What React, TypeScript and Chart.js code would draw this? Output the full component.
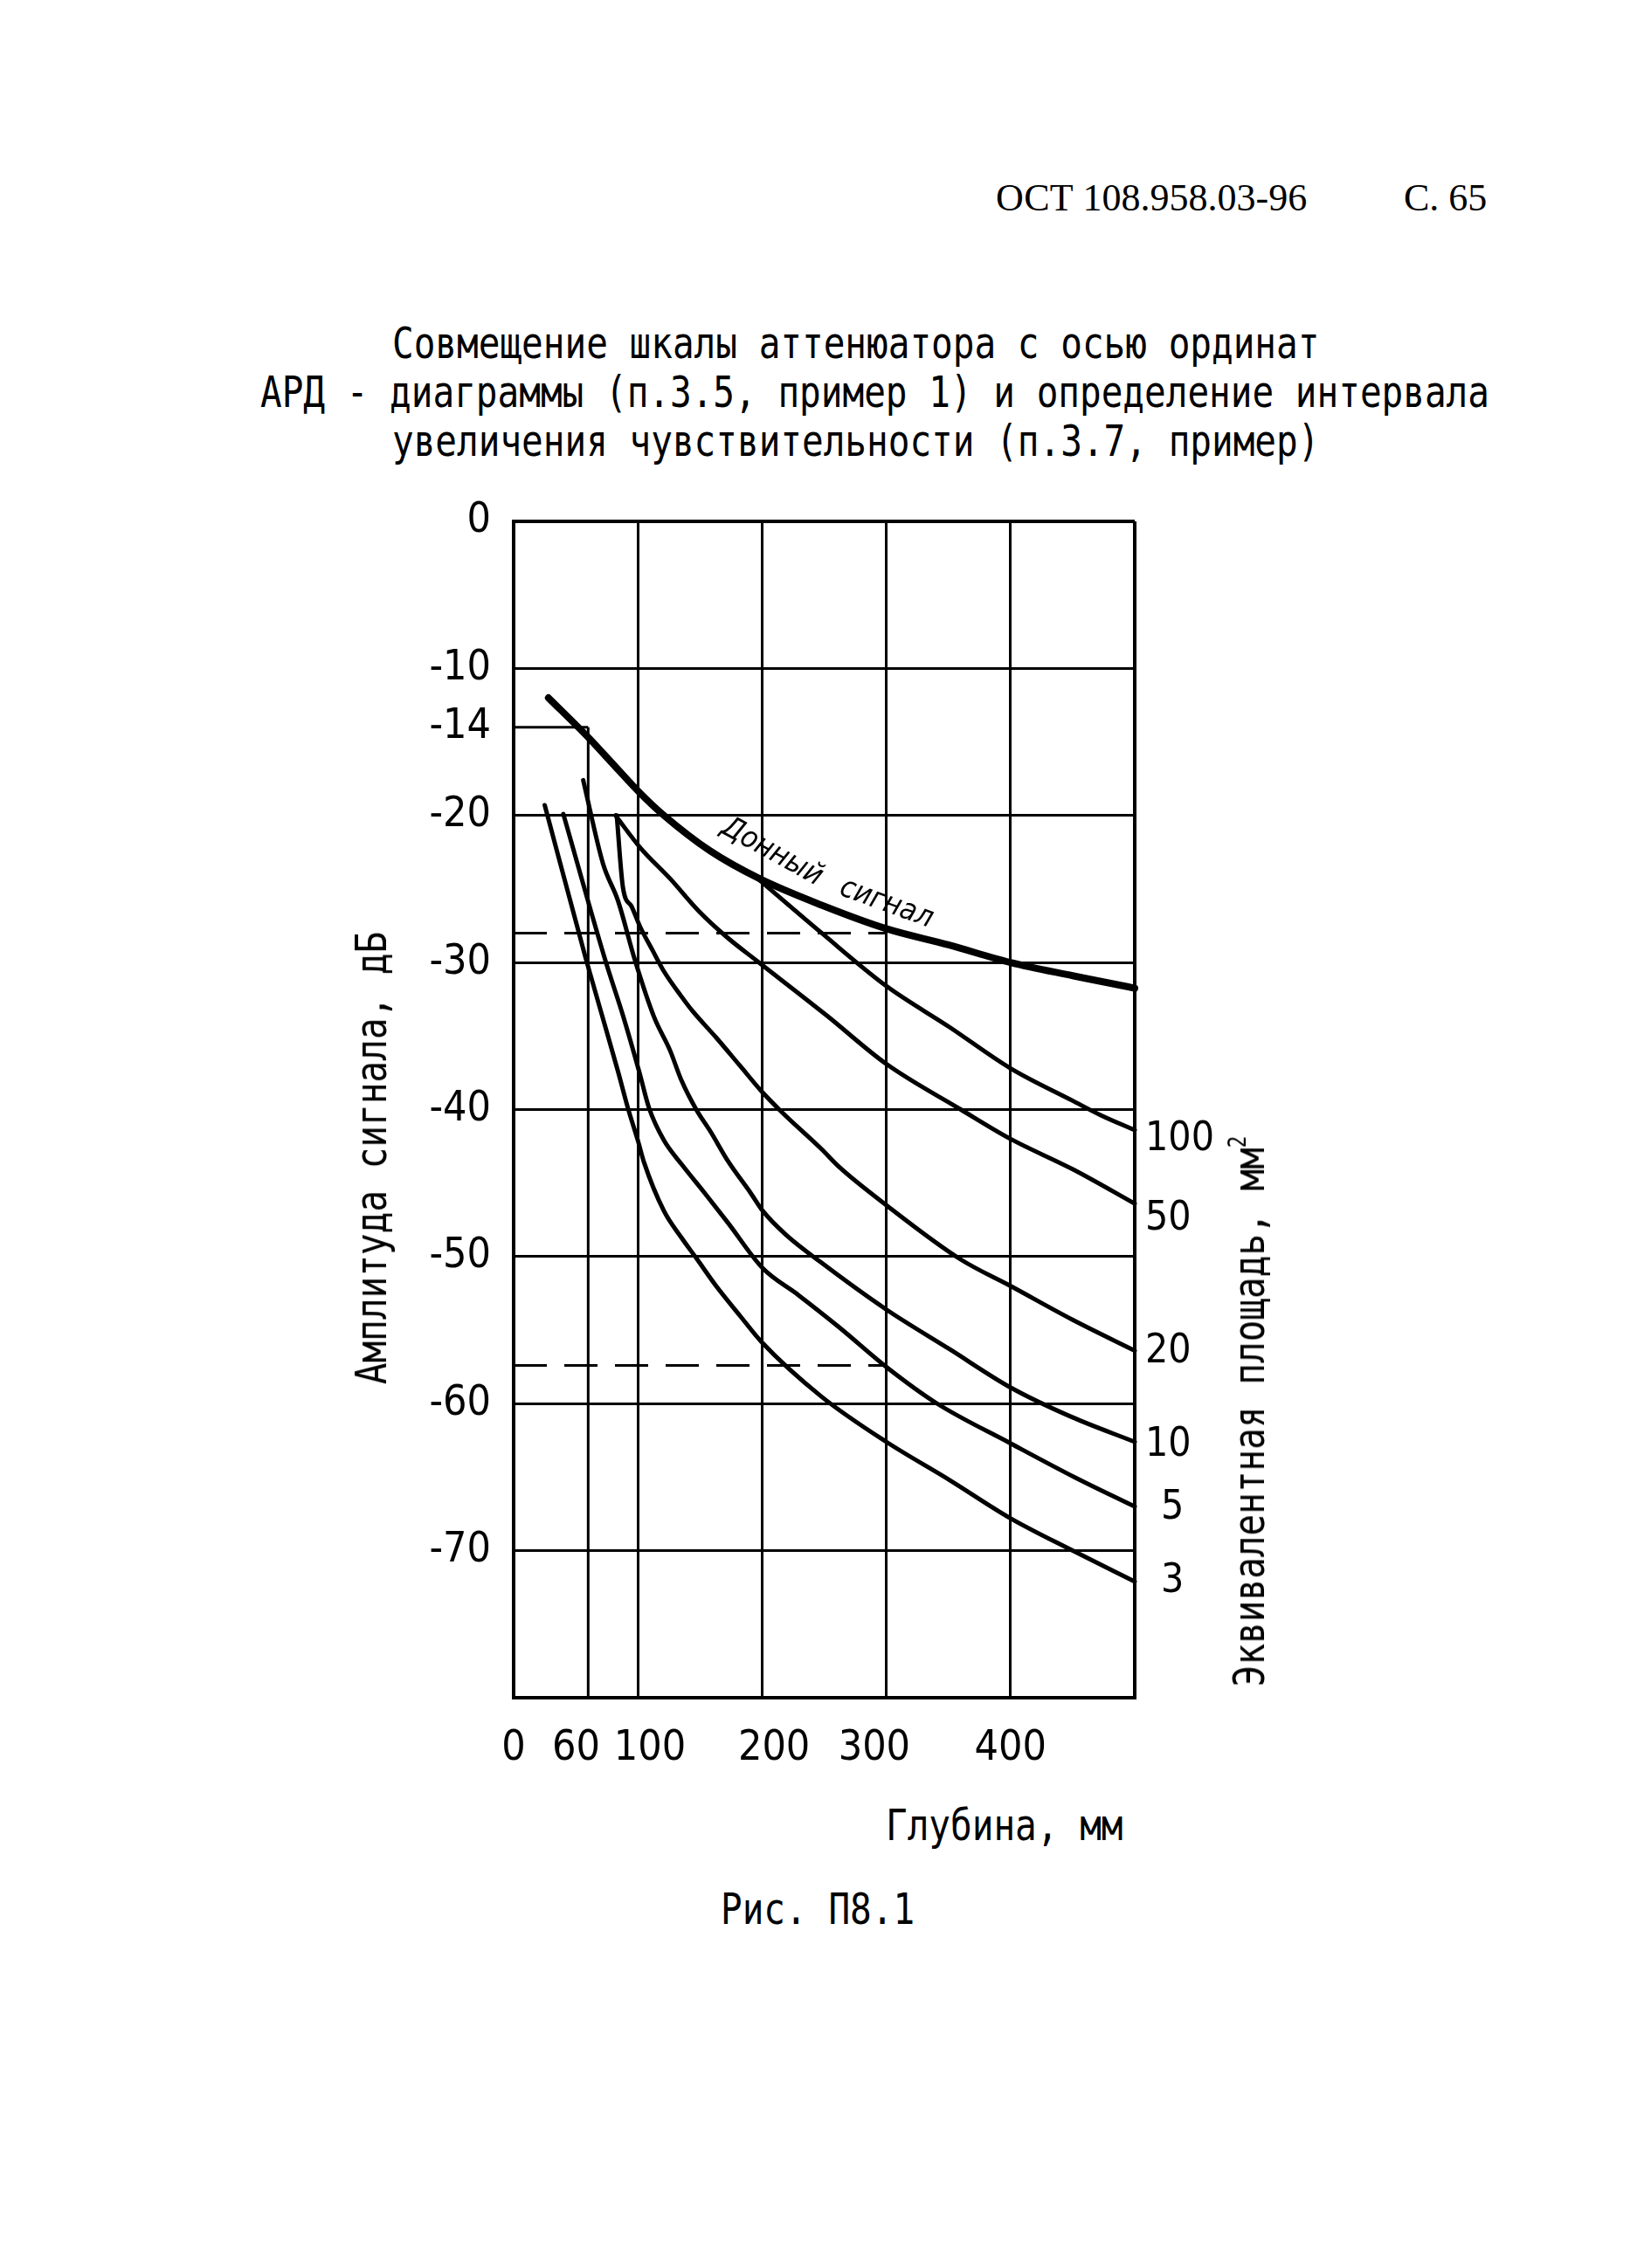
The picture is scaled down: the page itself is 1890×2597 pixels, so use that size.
import React, { useEffect, useRef } from 'react';
import { Chart, registerables } from 'chart.js';

Chart.register(...registerables);

// ---------------- data ----------------
const depthTicks = [0, 60, 100, 200, 300, 400, 500];
const depthTickLabels = ['0', '60', '100', '200', '300', '400', ''];
const ampTicks = [0, -10, -14, -20, -30, -40, -50, -60, -70, -80];
const ampTickLabels = ['0', '-10', '-14', '-20', '-30', '-40', '-50', '-60', '-70', ''];

// partial grid: the -14 dB line runs only up to 60 mm, the 60 mm line starts at -14 dB
const partialDepth = 60;
const partialAmp = -14;

// bottom echo ("Донный сигнал")
const echoDepth = [28, 59, 81, 102, 121, 158, 198, 248, 300, 350, 400, 450, 500, 508];
const echoAmp = [-12.0, -14.6, -16.6, -18.5, -20.0, -22.4, -24.3, -26.1, -27.7, -28.8, -30.0, -30.9, -31.75, -31.9];

// equivalent area 100 mm²
const s100Depth = [198, 248, 300, 351, 400, 450, 473, 500];
const s100Amp = [-24.4, -28.0, -31.6, -34.4, -37.2, -39.4, -40.4, -41.4];

// 50 mm²
const s50Depth = [82, 102, 126, 149, 172, 196, 252, 300, 360, 400, 451, 500];
const s50Amp = [-20.0, -22.2, -24.3, -26.5, -28.3, -29.9, -33.6, -36.9, -40.0, -42.0, -44.1, -46.4];

// 20 mm²
const s20Depth = [83, 88, 95, 102, 112, 121, 135, 144, 163, 182, 200, 215, 248, 262, 300, 360, 400, 450, 500];
const s20Amp = [-20.0, -24.9, -26.2, -27.6, -29.2, -30.6, -32.3, -33.3, -35.1, -37.0, -38.8, -40.1, -42.7, -43.9, -46.5, -50.2, -52.0, -54.3, -56.4];

// 10 mm²
const s10Depth = [56, 72, 84, 97.5, 113, 126, 135, 147, 158.5, 172.5, 191, 200.6, 219, 247.5, 300, 351, 400, 449, 500];
const s10Amp = [-17.6, -23.3, -25.8, -29.8, -33.7, -36.0, -38.0, -40.0, -41.5, -43.5, -45.7, -46.9, -48.5, -50.4, -53.6, -56.3, -58.9, -60.9, -62.6];

// 5 mm²
const s5Depth = [40, 74, 88, 101, 109, 121, 135, 154, 172.5, 200.6, 229, 262, 300, 341, 400, 451.5, 500];
const s5Amp = [-19.9, -29.9, -33.6, -37.4, -39.9, -42.1, -43.7, -45.7, -47.7, -50.8, -52.6, -54.8, -57.5, -60.0, -62.7, -65.0, -67.0];

// 3 mm²
const s3Depth = [25, 58, 70.5, 84, 92, 100, 105, 121, 135, 147, 163, 182, 199.5, 247.5, 300, 351, 400, 449, 500];
const s3Amp = [-19.3, -29.7, -33.4, -37.4, -39.9, -42.1, -43.6, -46.9, -48.7, -50.1, -52.0, -54.0, -55.8, -59.5, -62.6, -65.2, -67.8, -69.95, -72.1];

const areaLabels = ['100', '50', '20', '10', '5', '3'];

// dashed sensitivity lines
const dashedDepth = [0, 300];
const dashedLevels = [-28, -57.4];

const echoLabelWords = ['Донный', 'сигнал'];

const titleLines = [
  'Совмещение шкалы аттенюатора с осью ординат',
  'АРД - диаграммы (п.3.5, пример 1) и определение интервала',
  'увеличения чувствительности (п.3.7, пример)',
];
const yTitle = 'Амплитуда сигнала, дБ';
const rightTitle = 'Эквивалентная площадь, мм';
const xTitle = 'Глубина, мм';
const figCaption = 'Рис. П8.1';
const headerDoc = 'ОСТ 108.958.03-96';
const headerPage = 'С. 65';

// ---------------- styling ----------------
const TICK_FAMILY = '"DejaVu Sans Condensed", "Liberation Sans Narrow", "DejaVu Sans", sans-serif';
const MONO = '"DejaVu Sans Mono", monospace';
const FIG_SPACE = '\u2007';
// small horizontal nudges of x tick labels, in figure-space widths (layout only)
const depthLabelNudge = [0, -1, 1, 1, -1, 0, 0];

const areaCurves = [
  { d: s100Depth, a: s100Amp },
  { d: s50Depth, a: s50Amp },
  { d: s20Depth, a: s20Amp },
  { d: s10Depth, a: s10Amp },
  { d: s5Depth, a: s5Amp },
  { d: s3Depth, a: s3Amp },
];

const pts = (d: number[], a: number[]) => d.map((v, i) => ({ x: v, y: a[i] }));

const partialGridPlugin = {
  id: 'partialGrid',
  beforeDatasetsDraw(chart: any) {
    const { ctx, scales } = chart;
    const x = scales.x;
    const y = scales.y;
    ctx.save();
    ctx.strokeStyle = '#000';
    ctx.lineWidth = 3;
    ctx.beginPath();
    ctx.moveTo(x.getPixelForValue(0), y.getPixelForValue(partialAmp));
    ctx.lineTo(x.getPixelForValue(partialDepth), y.getPixelForValue(partialAmp));
    ctx.moveTo(x.getPixelForValue(partialDepth), y.getPixelForValue(partialAmp));
    ctx.lineTo(x.getPixelForValue(partialDepth), y.getPixelForValue(-80));
    ctx.stroke();
    ctx.restore();
  },
};

const labelPlugin = {
  id: 'curveLabels',
  afterDatasetsDraw(chart: any) {
    const { ctx, scales } = chart;
    const x = scales.x;
    const y = scales.y;
    ctx.save();
    ctx.fillStyle = '#000';
    ctx.font = `46px ${TICK_FAMILY}`;
    ctx.textBaseline = 'middle';
    ctx.textAlign = 'left';
    const dy = [11, 18, 1, 4, 2, 0];
    areaCurves.forEach((c, i) => {
      const n = c.d.length - 1;
      const lbl = areaLabels[i];
      const px = x.getPixelForValue(c.d[n]) + (lbl.length > 1 ? 12 : 30);
      const py = y.getPixelForValue(c.a[n]) + dy[i];
      ctx.fillText(lbl, px, py);
    });

    // "Донный сигнал" written along the echo curve
    ctx.font = 'italic 34px "DejaVu Sans Condensed", "Liberation Sans", sans-serif';
    ctx.textAlign = 'center';
    const place = [
      { d: 208, a: -22.5, ang: 29 },
      { d: 300, a: -26.0, ang: 20 },
    ];
    echoLabelWords.forEach((w, i) => {
      const p = place[i];
      ctx.save();
      ctx.translate(x.getPixelForValue(p.d), y.getPixelForValue(p.a));
      ctx.rotate((p.ang * Math.PI) / 180);
      ctx.fillText(w, 0, 0);
      ctx.restore();
    });
    ctx.restore();
  },
};

const monoText: React.CSSProperties = {
  position: 'absolute',
  fontFamily: MONO,
  fontSize: 50,
  lineHeight: 1,
  whiteSpace: 'pre',
  color: '#000',
  transformOrigin: '0 50%',
  transform: 'scaleX(0.82)',
  zIndex: 2,
};

const serifText: React.CSSProperties = {
  position: 'absolute',
  fontFamily: '"Liberation Serif", "DejaVu Serif", serif',
  fontSize: 44,
  lineHeight: 1,
  whiteSpace: 'pre',
  color: '#000',
  zIndex: 2,
};

export default function App() {
  const canvasRef = useRef<HTMLCanvasElement>(null);

  useEffect(() => {
    const canvas = canvasRef.current;
    if (!canvas) return;

    const datasets: any[] = [];
    datasets.push({
      data: pts(echoDepth, echoAmp),
      showLine: true,
      borderColor: '#000',
      borderWidth: 8,
      pointRadius: 0,
      cubicInterpolationMode: 'monotone',
      borderCapStyle: 'round',
      borderJoinStyle: 'round',
      clip: false,
    });
    areaCurves.forEach((c) => {
      datasets.push({
        data: pts(c.d, c.a),
        showLine: true,
        borderColor: '#000',
        borderWidth: 5,
        pointRadius: 0,
        cubicInterpolationMode: 'monotone',
        borderCapStyle: 'round',
        borderJoinStyle: 'round',
        clip: false,
      });
    });
    dashedLevels.forEach((lvl) => {
      datasets.push({
        data: dashedDepth.map((d) => ({ x: d, y: lvl })),
        showLine: true,
        borderColor: '#000',
        borderWidth: 3,
        borderDash: [38, 20],
        pointRadius: 0,
      });
    });

    const tickFont = { family: TICK_FAMILY, size: 48 };

    const chart = new Chart(canvas, {
      type: 'scatter',
      data: { datasets },
      options: {
        animation: false,
        responsive: true,
        maintainAspectRatio: false,
        devicePixelRatio: 1,
        events: [],
        layout: { padding: { left: 388, right: 591, top: 57, bottom: 16 } },
        plugins: {
          legend: { display: false },
          tooltip: { enabled: false },
        },
        scales: {
          x: {
            type: 'linear',
            min: 0,
            max: 500,
            afterBuildTicks: (s: any) => {
              s.ticks = depthTicks.map((v) => ({ value: v }));
            },
            afterFit: (s: any) => {
              s.height = 100;
            },
            grid: {
              drawTicks: false,
              color: (ctx: any) =>
                ctx.tick && ctx.tick.value === partialDepth ? 'rgba(0,0,0,0)' : '#000',
              lineWidth: (ctx: any) =>
                ctx.tick && (ctx.tick.value === 0 || ctx.tick.value === 500) ? 4 : 3,
            },
            border: { display: true, color: '#000', width: 4 },
            ticks: {
              autoSkip: false,
              maxRotation: 0,
              color: '#000',
              font: tickFont,
              padding: 30,
              callback: (v: any) => {
                const i = depthTicks.indexOf(Number(v));
                if (i < 0) return '';
                const lbl = depthTickLabels[i];
                const n = depthLabelNudge[i];
                if (!lbl) return '';
                return n < 0 ? lbl + FIG_SPACE.repeat(-n) : FIG_SPACE.repeat(n) + lbl;
              },
            },
          },
          y: {
            type: 'linear',
            min: -80,
            max: 0,
            afterBuildTicks: (s: any) => {
              s.ticks = [...ampTicks].sort((a, b) => a - b).map((v) => ({ value: v }));
            },
            afterFit: (s: any) => {
              s.width = 200;
            },
            grid: {
              drawTicks: false,
              color: (ctx: any) =>
                ctx.tick && ctx.tick.value === partialAmp ? 'rgba(0,0,0,0)' : '#000',
              lineWidth: (ctx: any) =>
                ctx.tick && (ctx.tick.value === 0 || ctx.tick.value === -80) ? 4 : 3,
            },
            border: { display: true, color: '#000', width: 4 },
            ticks: {
              autoSkip: false,
              color: '#000',
              font: tickFont,
              padding: 26,
              callback: (v: any) => {
                const i = ampTicks.indexOf(Number(v));
                return i >= 0 ? ampTickLabels[i] : '';
              },
            },
          },
        },
      } as any,
      plugins: [partialGridPlugin, labelPlugin],
    });

    return () => chart.destroy();
  }, []);

  return (
    <div
      style={{
        position: 'absolute',
        left: 0,
        top: 0,
        width: 1890,
        height: 2597,
        background: '#fff',
        overflow: 'hidden',
      }}
    >
      <div style={{ ...serifText, left: 1140, top: 205 }}>{headerDoc}</div>
      <div style={{ ...serifText, left: 1607, top: 205 }}>{headerPage}</div>

      <div style={{ ...monoText, left: 449, top: 368 }}>{titleLines[0]}</div>
      <div style={{ ...monoText, left: 298, top: 424 }}>{titleLines[1]}</div>
      <div style={{ ...monoText, left: 449, top: 480 }}>{titleLines[2]}</div>

      <div style={{ position: 'absolute', left: 0, top: 540, width: 1890, height: 1520, zIndex: 1 }}>
        <canvas ref={canvasRef} />
      </div>

      <div
        style={{
          ...monoText,
          left: 425,
          top: 1326,
          transformOrigin: '50% 50%',
          transform: 'translate(-50%, -50%) rotate(-90deg) scaleX(0.82)',
        }}
      >
        {yTitle}
      </div>

      <div
        style={{
          ...monoText,
          left: 1430,
          top: 1616,
          transformOrigin: '50% 50%',
          transform: 'translate(-50%, -50%) rotate(-90deg) scaleX(0.82)',
        }}
      >
        {rightTitle}
        <span style={{ position: 'relative', top: '-0.75em', fontSize: '0.55em' }}>2</span>
      </div>

      <div style={{ ...monoText, left: 1014, top: 2065 }}>{xTitle}</div>
      <div style={{ ...monoText, left: 825, top: 2161 }}>{figCaption}</div>
    </div>
  );
}
